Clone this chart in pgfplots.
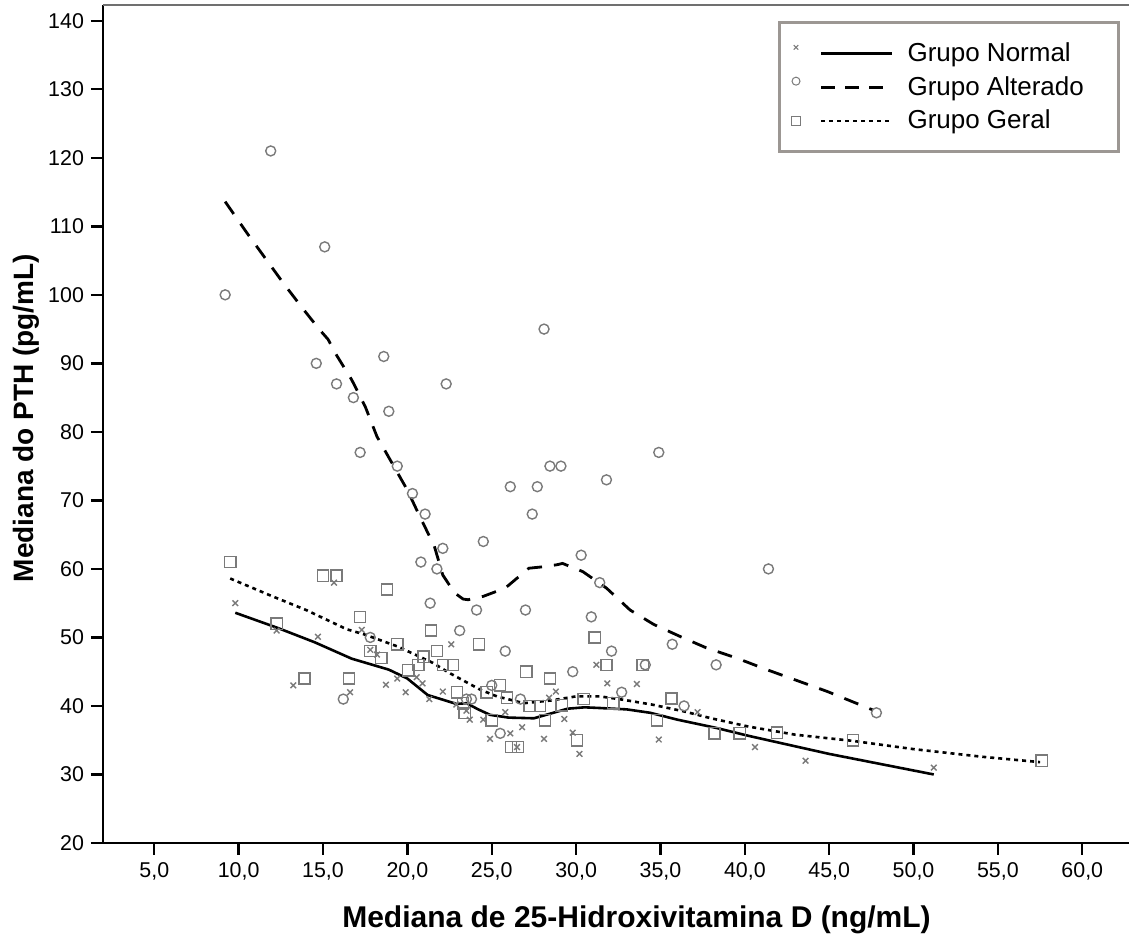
\documentclass[border=0pt]{standalone}
\usepackage{fontspec}
\setmainfont{Liberation Sans}
\usepackage{pgfplots}
\pgfplotsset{compat=1.18}
\definecolor{markgray}{HTML}{7A7A7A}
\definecolor{leggray}{HTML}{9C9793}
\definecolor{topgray}{HTML}{707070}
\begin{document}
\begin{tikzpicture}
\begin{axis}[
  scale only axis, width=513pt, height=419pt,
  xmin=1.96, xmax=62.77, ymin=20, ymax=142.3,
  axis x line*=bottom, axis y line*=left,
  axis line style={black, line width=1.3pt},
  xtick={5,10,...,60}, ytick={20,30,...,140},
  tick align=outside, major tick length=6pt,
  tick style={black, line width=1.2pt},
  /pgf/number format/assume math mode=true,
  xticklabel={\pgfmathprintnumber[fixed,fixed zerofill,precision=1,use comma,assume math mode=true]{\tick}},
  tick label style={font=\fontsize{10.7}{12}\selectfont},
  xlabel={Mediana de 25-Hidroxivitamina D (ng/mL)},
  xlabel style={font=\fontsize{15}{18}\selectfont\bfseries, at={(rel axis cs:0.52,0)}, anchor=base, yshift=-42.5pt, inner sep=0pt},
  ylabel={Mediana do PTH (pg/mL)},
  ylabel style={font=\fontsize{14}{16}\selectfont\bfseries, at={(rel axis cs:-0.0682,0.507)}, anchor=base, inner sep=0pt},
  legend style={at={(rel axis cs:0.658,0.981)}, anchor=north west, draw=leggray, line width=1.5pt, fill=white,
    inner xsep=6pt, inner ysep=8pt, row sep=2pt, font=\fontsize{13}{15}\selectfont, cells={anchor=west}},
  legend cell align=left,
  clip=false,
]
\coordinate (bbl) at (rel axis cs:0,0);
\coordinate (btr) at (rel axis cs:1,1);
\draw[topgray, line width=1.2pt] (rel axis cs:0,1) -- (rel axis cs:1,1);

% Grupo Normal (x)
\addplot[only marks, mark=x, mark size=2pt, markgray, line width=0.7pt, forget plot] coordinates {
(9.8,55) (12.25,51) (14.7,50.1) (15.65,58) (17.3,51.1) (13.24,43) (16.6,42) (18.73,43.1)
(19.9,42) (21.3,41) (19.4,44) (22.6,49) (17.8,48.2) (18.2,47.5) (20.55,44.2) (22.1,42.1)
(20.9,43.3) (22.9,40.2) (23.7,38) (23.5,39.3) (24.5,38) (25.8,39.1) (24.9,35.2) (26.1,36)
(26.8,36.9) (26.5,34) (28.1,35.2) (28.8,42.1) (28.4,41.2) (29.3,38.1) (29.8,36.1) (30.2,33)
(31.2,46) (31.85,43.3) (33.6,43.2) (34.9,35.1) (37.2,39.1) (40.6,34) (43.6,32) (51.2,31)
};
% Grupo Alterado (o)
\addplot[only marks, mark=o, mark size=2.5pt, markgray, line width=0.7pt, forget plot] coordinates {
(9.2,100) (11.9,121) (15.1,107) (14.6,90) (18.6,91) (15.8,87) (22.3,87) (16.8,85) (18.9,83)
(17.2,77) (19.4,75) (20.3,71) (21.05,68) (22.1,63) (20.8,61) (21.75,60) (21.35,55) (24.1,54)
(23.1,51) (17.8,50) (16.2,41) (23.5,41) (28.1,95) (34.9,77) (28.45,75) (29.1,75) (26.1,72)
(27.7,72) (31.8,73) (27.4,68) (24.5,64) (30.3,62) (31.4,58) (41.4,60) (27.0,54) (30.9,53)
(25.8,48) (32.1,48) (35.7,49) (38.3,46) (29.8,45) (34.1,46) (25.0,43) (32.7,42) (26.7,41)
(36.4,40) (25.5,36) (23.8,41) (47.8,39)
};
% Grupo Geral (square)
\addplot[only marks, mark=square, mark size=2.8pt, markgray, line width=0.7pt, forget plot] coordinates {
(9.5,61) (15.0,59) (15.8,59) (18.8,57) (17.2,53) (12.25,52) (21.4,51) (19.4,49) (17.8,48)
(21.75,48) (18.45,47) (20.95,47.2) (20.65,46) (22.7,46) (22.1,46) (20.05,45.2) (13.9,44)
(16.55,44) (22.95,42) (23.4,39) (24.25,49) (27.05,45) (28.45,44) (31.1,50) (31.8,46) (33.95,46)
(25.5,43) (24.7,42) (25.9,41.2) (27.25,40) (27.85,40) (29.15,40.1) (30.45,41) (32.2,40.4)
(35.65,41.1) (34.8,37.9) (38.2,36) (39.7,36) (25.0,37.9) (28.15,37.9) (23.3,40.4) (30.05,35)
(26.15,34) (26.55,34) (41.9,36.1) (46.4,35) (57.6,32)
};

% Loess lines
\addplot[black, line width=1.3pt, forget plot] coordinates {
(9.8,53.6) (12.3,51.4) (14.5,49.3) (16.7,46.9) (18.9,45.3) (20,44) (21.2,41.6) (22.9,40.3)
(23.5,40.4) (24.2,39.5) (24.9,38.7) (26,38.3) (27.5,38.2) (28.5,38.9) (29.5,39.6) (30.5,39.8)
(31.4,39.7) (33,39.5) (34.4,39.0) (36,38.0) (38.3,36.8) (40.2,35.65) (45,33.0) (51.2,30.0)
};
\addplot[black, line width=1.4pt, dash pattern=on 7.5pt off 6pt, forget plot] coordinates {
(9.2,113.6) (10.5,109) (12.65,101.7) (13.8,98) (14.8,94.9) (15.3,93.5) (15.8,91.2) (16.7,87.6)
(17.5,83.7) (18.2,79.3) (19.1,75.4) (20.0,71.5) (20.65,68.1) (21.6,63.3) (22.1,59.1) (22.8,56.5)
(23.3,55.6) (23.6,55.5) (24.5,56.0) (25.8,57.2) (27.2,60.1) (28.0,60.3) (28.85,60.6) (29.2,60.8)
(30.4,59.6) (31.8,57.2) (33.2,54.0) (34.6,51.9) (36.2,50.1) (37.7,48.5) (39.5,47.0) (41.3,45.3)
(44.9,42.1) (47.6,39.4)
};
\addplot[black, line width=1.3pt, dash pattern=on 2pt off 2pt, forget plot] coordinates {
(9.5,58.6) (12,56.0) (14,54) (16.4,51.2) (17.5,50.4) (19.4,48.7) (21.5,46.3) (22.5,44.8)
(24.3,42.4) (25.3,41.4) (26.9,40.4) (28.5,40.8) (30,41.4) (31.4,41.4) (32.8,40.9) (34.5,40.2)
(36.4,39.2) (38,38.2) (40.2,37.0) (43,35.8) (46.4,34.9) (50,33.7) (54,32.6) (57.5,31.8)
};

\addlegendimage{legend image code/.code={
  \draw[markgray,line width=0.5pt,mark=x,mark size=1.6pt] plot coordinates {(0pt,3pt)};
  \draw[black,line width=1.3pt] (12.5pt,0pt) -- (48pt,0pt);
  \path (0pt,0pt) (53pt,0pt);}}
\addlegendentry{Grupo Normal}
\addlegendimage{legend image code/.code={
  \draw[markgray,line width=0.5pt,mark=o,mark size=2pt] plot coordinates {(0pt,3pt)};
  \draw[black,line width=1.4pt,dash pattern=on 7pt off 5pt] (12.5pt,0pt) -- (48pt,0pt);
  \path (0pt,0pt) (53pt,0pt);}}
\addlegendentry{\makebox[97.5pt][l]{Grupo Alterado}}
\addlegendimage{legend image code/.code={
  \draw[markgray,line width=0.5pt,mark=square,mark size=2.2pt] plot coordinates {(0pt,0pt)};
  \draw[black,line width=1.3pt,dash pattern=on 2pt off 2pt] (12.5pt,0pt) -- (48pt,0pt);
  \path (0pt,0pt) (53pt,0pt);}}
\addlegendentry{Grupo Geral}
\end{axis}
\pgfresetboundingbox
\path ([xshift=-51.5pt,yshift=-46pt]bbl) rectangle ([yshift=2.5pt]btr);
\end{tikzpicture}
\end{document}
